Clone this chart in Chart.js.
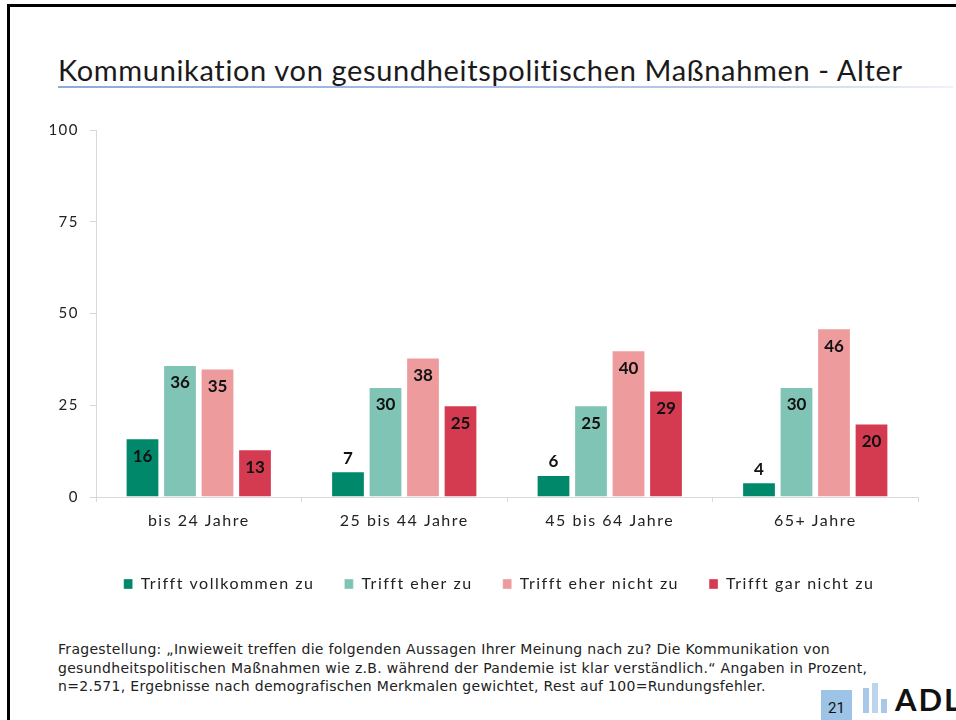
<!DOCTYPE html>
<html>
<head>
<meta charset="utf-8">
<script src="https://cdn.jsdelivr.net/npm/chart.js@4.4.1/dist/chart.umd.min.js"></script>
<style>
    html, body { margin: 0; padding: 0; background: #fff; }
    body { width: 956px; height: 720px; position: relative; overflow: hidden; font-family: 'Lato', sans-serif; }
    .frame { position: absolute; left: 7px; top: 4px; width: 1000px; height: 800px; border: 3px solid #000; box-sizing: border-box; }
    .title { position: absolute; left: 58px; top: 52px; font-size: 29px; letter-spacing: 0.65px; color: #1a1a1a; white-space: nowrap; }
    .title-line { position: absolute; left: 58px; top: 86px; width: 895px; height: 2px;
        background: linear-gradient(to right, #8eaadb, #b4c7e7 70%, #eef2f9); }
    .chart-box { position: absolute; left: 40px; top: 110px; width: 890px; height: 500px; }
    .note { position: absolute; left: 58px; top: 640px; font-family: 'DejaVu Sans', sans-serif; font-size: 14px; letter-spacing: 0.3px; line-height: 18.5px; color: #222; white-space: nowrap; }
    .page { position: absolute; left: 821px; top: 690px; width: 31px; height: 30px; background: #9dc3e6; color: #111;
        font-family: 'Roboto', sans-serif; font-size: 15px; text-align: center; line-height: 36px; }
    .logo-bar { position: absolute; width: 6px; background: #a9c8e8; }
    .logo-text { position: absolute; left: 895px; top: 680px; font-family: 'Lato', sans-serif; font-weight: bold; font-size: 31px; color: #111; letter-spacing: 2px; }
</style>
</head>
<body>
<div class="frame"></div>
<div class="title">Kommunikation von gesundheitspolitischen Maßnahmen - Alter</div>
<div class="title-line"></div>
<div class="chart-box"><canvas id="ageChart"></canvas></div>
<div class="note">Fragestellung: „Inwieweit treffen die folgenden Aussagen Ihrer Meinung nach zu? Die Kommunikation von<br>gesundheitspolitischen Maßnahmen wie z.B. während der Pandemie ist klar verständlich.“ Angaben in Prozent,<br>n=2.571, Ergebnisse nach demografischen Merkmalen gewichtet, Rest auf 100=Rundungsfehler.</div>
<div class="page">21</div>
<div class="logo-bar" style="left:863px; top:688px; height:25px;"></div>
<div class="logo-bar" style="left:872px; top:683px; height:30px; background:#bcd4ee;"></div>
<div class="logo-bar" style="left:881px; top:699px; height:14px;"></div>
<div class="logo-text">ADL</div>

<script>
// Data
const ageGroups = ['bis 24 Jahre', '25 bis 44 Jahre', '45 bis 64 Jahre', '65+ Jahre'];
const seriesNames = ['Trifft vollkommen zu', 'Trifft eher zu', 'Trifft eher nicht zu', 'Trifft gar nicht zu'];
const fullyAgree = [16, 7, 6, 4];
const ratherAgree = [36, 30, 25, 30];
const ratherDisagree = [35, 38, 40, 46];
const notAtAll = [13, 25, 29, 20];
const yTicks = [0, 25, 50, 75, 100];

const seriesColors = ['#00886a', '#80c4b5', '#ed9b9c', '#d43b51'];

// Value labels: inside the bar top, above the bar when it is too short
const valueLabels = {
    id: 'valueLabels',
    afterDatasetsDraw(chart) {
        const ctx = chart.ctx;
        ctx.save();
        ctx.letterSpacing = '0px';
        ctx.font = 'bold 17px Lato';
        ctx.fillStyle = '#111';
        ctx.textAlign = 'center';
        ctx.textBaseline = 'middle';
        chart.data.datasets.forEach((ds, i) => {
            const meta = chart.getDatasetMeta(i);
            meta.data.forEach((bar, j) => {
                const v = ds.data[j];
                const h = bar.base - bar.y;
                const y = h > 30 ? bar.y + 18 : bar.y - 13;
                ctx.fillText(String(v), bar.x, y);
            });
        });
        ctx.restore();
    }
};

// Wider letter spacing for axis and legend texts (canvas resets it on resize)
const spacing = {
    id: 'spacing',
    beforeUpdate(chart) { chart.ctx.letterSpacing = '1.5px'; },
    beforeLayout(chart) { chart.ctx.letterSpacing = '1.5px'; },
    beforeDraw(chart) { chart.ctx.letterSpacing = '1.5px'; },
    // the legend sits a bit right of the canvas centre in the original
    afterLayout(chart) {
        chart.legend.left += 20;
        chart.legend.right += 20;
    }
};

document.addEventListener('DOMContentLoaded', function() {
    const values = [fullyAgree, ratherAgree, ratherDisagree, notAtAll];
    new Chart(document.getElementById('ageChart'), {
        type: 'bar',
        data: {
            labels: ageGroups,
            datasets: values.map((vals, i) => ({
                label: seriesNames[i],
                data: vals,
                backgroundColor: seriesColors[i],
                borderColor: 'rgba(255,255,255,0.35)',
                borderWidth: 1,
                barPercentage: 0.9,
                categoryPercentage: 0.73
            }))
        },
        options: {
            responsive: true,
            maintainAspectRatio: false,
            animation: false,
            layout: { padding: { top: 16, right: 12, bottom: 8 } },
            plugins: {
                legend: {
                    position: 'bottom',
                    labels: {
                        boxWidth: 9,
                        boxHeight: 10,
                        padding: 30,
                        color: '#222',
                        font: { family: 'Lato', size: 16 }
                    }
                },
                tooltip: { enabled: false }
            },
            scales: {
                y: {
                    min: 0,
                    max: 100,
                    afterBuildTicks(scale) { scale.ticks = yTicks.map(v => ({ value: v })); },
                    afterFit(scale) { scale.width = 56; },
                    border: { color: '#d9d9d9' },
                    grid: { drawOnChartArea: false, tickLength: 6, color: '#d9d9d9' },
                    ticks: { color: '#222', padding: 11, font: { family: 'Lato', size: 15 } }
                },
                x: {
                    afterFit(scale) { scale.height = 49; },
                    border: { color: '#d9d9d9' },
                    grid: { drawOnChartArea: false, tickLength: 5, color: '#d9d9d9' },
                    ticks: { color: '#222', padding: 9, font: { family: 'Lato', size: 16 } }
                }
            }
        },
        plugins: [spacing, valueLabels]
    });
});
</script>
</body>
</html>
